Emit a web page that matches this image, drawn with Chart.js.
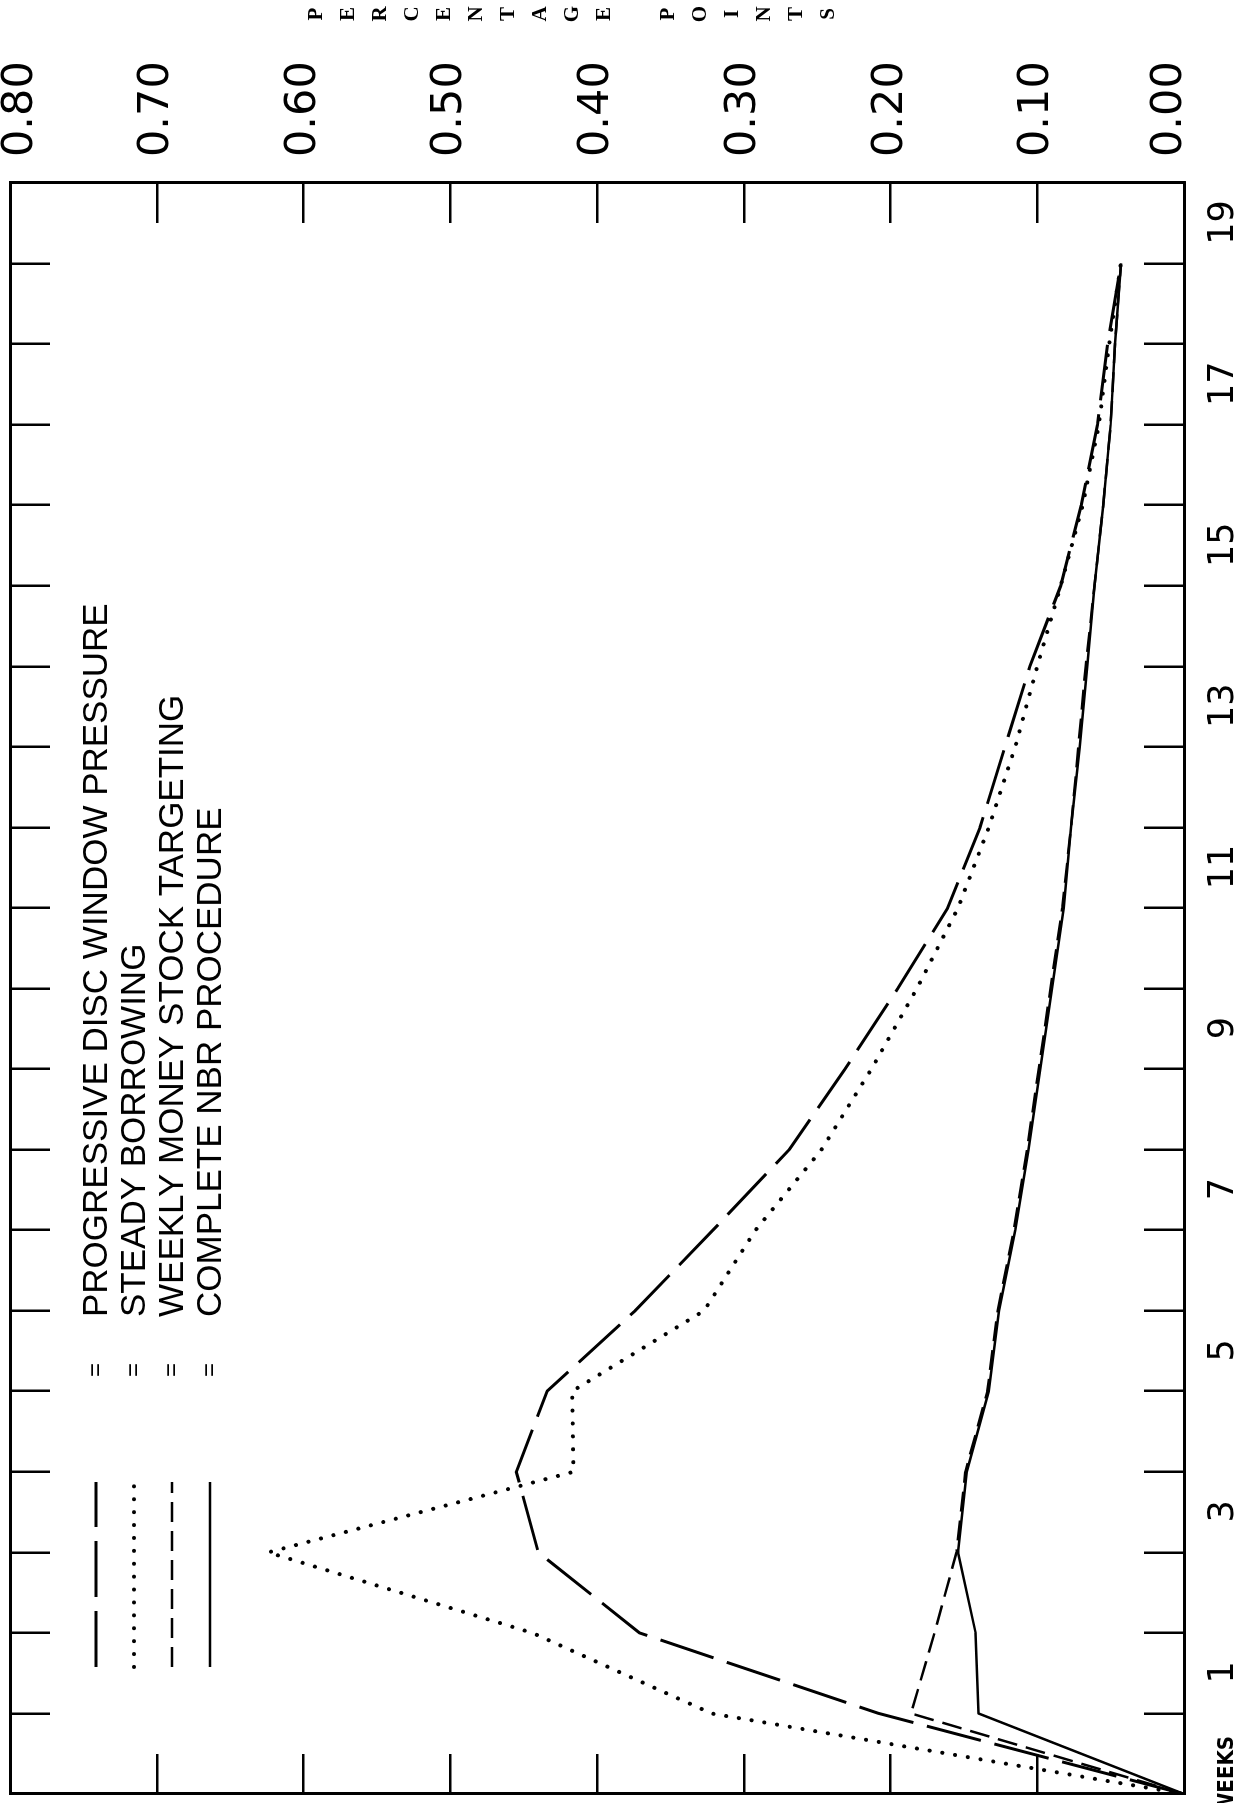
<!DOCTYPE html>
<html>
<head>
<meta charset="utf-8">
<script src="https://cdn.jsdelivr.net/npm/chart.js@4.4.1/dist/chart.umd.min.js"></script>
<style>
  html, body { margin: 0; padding: 0; background: #fff; overflow: hidden; }
  /* the chart is laid out landscape and turned a quarter to the left, as in the scan */
  #page {
    position: absolute; left: 0; top: 0;
    width: 1803px; height: 1243px;
    transform-origin: 0 0;
    transform: translate(0, 1803px) rotate(-90deg);
  }
</style>
</head>
<body>
<div id="page"><canvas id="chart" width="1803" height="1243"></canvas></div>
<script>
var weeks = [0, 1, 2, 3, 4, 5, 6, 7, 8, 9, 10, 11, 12, 13, 14, 15, 16, 17, 18, 19];
var seriesNames = [
  'PROGRESSIVE DISC WINDOW PRESSURE',
  'STEADY BORROWING',
  'WEEKLY MONEY STOCK TARGETING',
  'COMPLETE NBR PROCEDURE'
];
var discWindow = [0, 0.208, 0.371, 0.440, 0.455, 0.434, 0.374, 0.321, 0.269, 0.231,
                  0.195, 0.161, 0.139, 0.122, 0.105, 0.084, 0.070, 0.059, 0.052, 0.043];
var steadyBorrowing = [0, 0.322, 0.444, 0.624, 0.416, 0.417, 0.327, 0.292, 0.247, 0.213,
                       0.182, 0.154, 0.133, 0.115, 0.100, 0.084, 0.069, 0.058, 0.051, 0.043];
var weeklyMoney = [0, 0.186, 0.170, 0.155, 0.149, 0.134, 0.127, 0.116, 0.107, 0.099,
                   0.091, 0.083, 0.077, 0.072, 0.067, 0.061, 0.055, 0.050, 0.047, 0.043];
var completeNBR = [0, 0.140, 0.142, 0.154, 0.148, 0.133, 0.126, 0.115, 0.106, 0.098,
                   0.090, 0.082, 0.077, 0.071, 0.066, 0.061, 0.055, 0.050, 0.047, 0.043];
var weekLabels = [1, 3, 5, 7, 9, 11, 13, 15, 17, 19];
var yTitle = 'PERCENTAGE POINTS';

function points(vals) {
  return weeks.map(function (w, i) { return { x: w, y: vals[i] }; });
}

// force the axis box sizes so the frame sits where it does in the scan
function fixSize(prop, size) {
  return function (scale) {
    scale[prop] = size;
    scale.paddingTop = scale.paddingBottom = scale.paddingLeft = scale.paddingRight = 0;
  };
}

var frame = { color: '#000', width: 3 };
var innerTicks = { drawOnChartArea: false, tickLength: -40, lineWidth: 2.5, color: '#000' };

var sideText = {
  id: 'sideText',
  afterDraw: function (chart) {
    var ctx = chart.ctx;
    ctx.save();
    ctx.fillStyle = '#000';
    ctx.strokeStyle = '#000';
    ctx.textBaseline = 'middle';
    chart.data.datasets.forEach(function (ds, i) {
      var y = 96 + i * 38;
      ctx.beginPath();
      ctx.lineWidth = ds.borderWidth;
      ctx.lineCap = ds.borderCapStyle || 'butt';
      ctx.setLineDash(ds.borderDash || []);
      ctx.moveTo(136, y);
      ctx.lineTo(321, y);
      ctx.stroke();
      ctx.setLineDash([]);
      ctx.textAlign = 'center';
      ctx.font = '24px "Liberation Sans"';
      ctx.fillText('=', 433, y);
      ctx.textAlign = 'left';
      ctx.font = '35px "Liberation Sans"';
      ctx.fillText(ds.label, 486, y + 1);
    });
    // stacked axis title on the far right
    ctx.textAlign = 'center';
    ctx.font = 'bold 21px "Liberation Serif"';
    for (var k = 0; k < yTitle.length; k++) {
      ctx.fillText(yTitle[k], 1789, 317 + k * 31.95);
    }
    ctx.textAlign = 'right';
    ctx.font = 'bold 22px "Liberation Sans Narrow", "DejaVu Sans Condensed", sans-serif';
    ctx.fillText('WEEKS', 67, 1227);
    ctx.restore();
  }
};

var ctx = document.getElementById('chart').getContext('2d');
var chart = new Chart(ctx, {
  type: 'line',
  data: {
    datasets: [{
      label: seriesNames[0],
      data: points(discWindow),
      borderColor: '#000',
      borderWidth: 3,
      borderDash: [56, 14]
    }, {
      label: seriesNames[1],
      data: points(steadyBorrowing),
      borderColor: '#000',
      borderWidth: 4,
      borderDash: [0.1, 12.8],
      borderCapStyle: 'round'
    }, {
      label: seriesNames[2],
      data: points(weeklyMoney),
      borderColor: '#000',
      borderWidth: 2.5,
      borderDash: [20, 9]
    }, {
      label: seriesNames[3],
      data: points(completeNBR),
      borderColor: '#000',
      borderWidth: 2.5
    }]
  },
  options: {
    responsive: false,
    animation: false,
    devicePixelRatio: 1,
    layout: { padding: { left: 9, top: 10, right: 0, bottom: 0 } },
    elements: {
      point: { radius: 0 },
      line: { tension: 0, fill: false, borderJoinStyle: 'round' }
    },
    plugins: {
      legend: { display: false },
      tooltip: { enabled: false }
    },
    scales: {
      x: {
        type: 'linear', position: 'bottom', min: 0, max: 20,
        afterFit: fixSize('height', 59),
        border: frame,
        grid: innerTicks,
        ticks: {
          stepSize: 1, autoSkip: false, maxRotation: 0, minRotation: 0,
          labelOffset: 41, padding: 59, color: '#000',
          font: { family: 'DejaVu Sans', size: 35 },
          callback: function (v) { return weekLabels.indexOf(v) >= 0 ? String(v) : ''; }
        }
      },
      xTop: {
        type: 'linear', position: 'top', min: 0, max: 20,
        afterFit: fixSize('height', 0),
        border: frame,
        grid: innerTicks,
        ticks: { stepSize: 1, autoSkip: false, display: false }
      },
      y: {
        type: 'linear', position: 'right', min: 0, max: 0.8,
        afterFit: fixSize('width', 183),
        border: frame,
        grid: innerTicks,
        ticks: {
          stepSize: 0.1, padding: 66, color: '#000',
          font: function (c) {
            var v = c.tick ? c.tick.value : 0.5;
            var lh = 1.2;
            if (v > 0.79) lh = 22 / 43;
            else if (v < 0.01) lh = 28 / 43;
            return { family: 'DejaVu Sans', size: 43, lineHeight: lh };
          },
          callback: function (v) {
            var s = v.toFixed(2);
            if (v > 0.79) return ['', s];
            if (v < 0.01) return [s, ''];
            return s;
          }
        }
      },
      yLeft: {
        type: 'linear', position: 'left', min: 0, max: 0.8,
        afterFit: fixSize('width', 0),
        border: frame,
        grid: innerTicks,
        ticks: { stepSize: 0.1, display: false }
      }
    }
  },
  plugins: [sideText]
});
</script>
</body>
</html>
